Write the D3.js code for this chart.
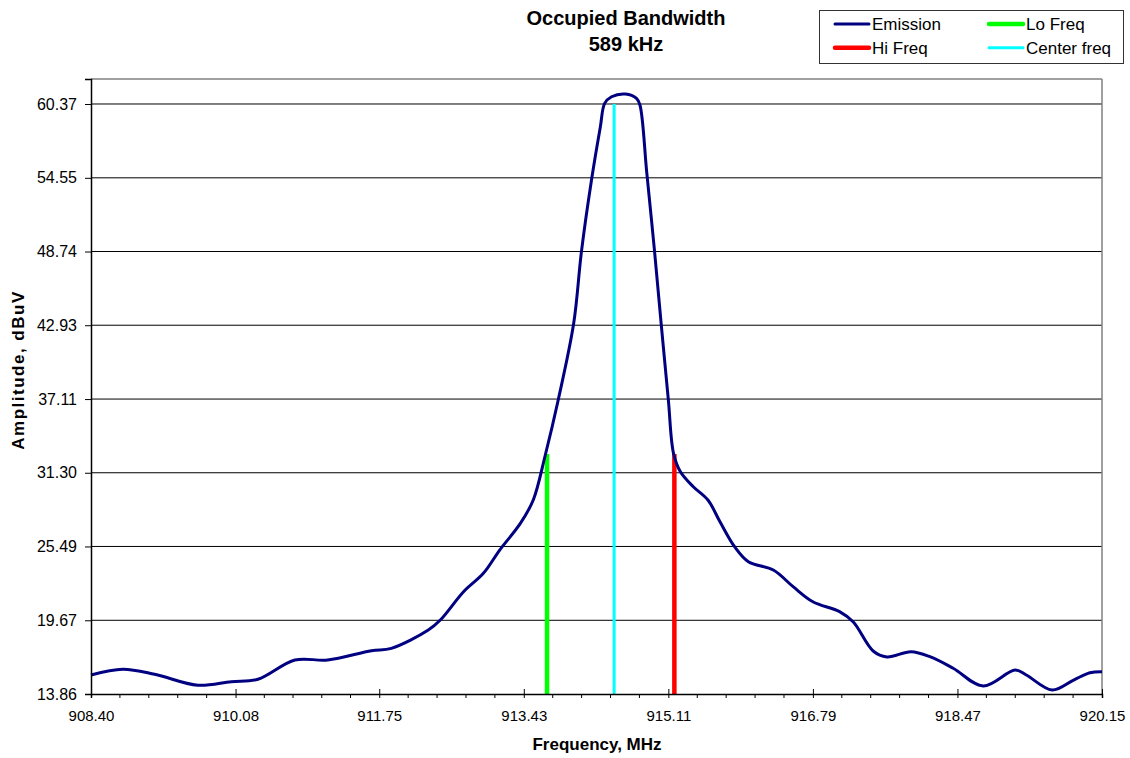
<!DOCTYPE html>
<html>
<head>
<meta charset="utf-8">
<script src="https://d3js.org/d3.v7.min.js"></script>
<style>
  body { margin: 0; background: #fff; }
  svg { display: block; font-family: "Liberation Sans", Arial, sans-serif; }
</style>
</head>
<body>
<svg id="chart" width="1130" height="758"></svg>
<script>
// emission trace (MHz, dBuV)
var freq = [908.40, 908.77, 909.14, 909.64, 910.03, 910.34, 910.77, 911.15, 911.66, 911.89,
            912.32, 912.46, 912.73, 912.96, 913.15, 913.39, 913.54, 913.68, 913.83, 914.01,
            914.10, 914.22, 914.32, 914.37, 914.45, 914.61, 914.74, 914.78, 914.86, 914.95,
            915.03, 915.11, 915.17, 915.25, 915.40, 915.57, 915.71, 915.88, 916.04, 916.33,
            916.56, 916.79, 917.10, 917.26, 917.49, 917.65, 917.93, 918.15, 918.42, 918.77,
            919.14, 919.27, 919.57, 919.82, 920.01, 920.15];
var amp  = [15.36, 15.81, 15.41, 14.55, 14.83, 15.02, 16.54, 16.54, 17.27, 17.46,
            18.90, 19.69, 21.92, 23.37, 25.21, 27.31, 29.15, 32.70, 37.04, 43.08,
            48.73, 54.51, 58.58, 60.42, 60.94, 61.16, 60.82, 60.29, 54.90, 48.73,
            42.80, 37.04, 32.83, 31.38, 30.20, 29.15, 27.44, 25.47, 24.29, 23.63,
            22.32, 21.13, 20.35, 19.53, 17.25, 16.78, 17.19, 16.80, 15.89, 14.49,
            15.75, 15.36, 14.18, 14.96, 15.54, 15.62];

// marker lines: name, freq, top amplitude
var markerNames  = ["Lo Freq", "Center freq", "Hi Freq"];
var markerFreq   = [913.70, 914.48, 915.18];
var markerTop    = [32.78, 60.37, 32.78];

var xTicks = [908.40, 910.08, 911.75, 913.43, 915.11, 916.79, 918.47, 920.15];
var yTicks = [13.86, 19.67, 25.49, 31.30, 37.11, 42.93, 48.74, 54.55, 60.37];
var yMax = 62.34;

var titleLines = ["Occupied Bandwidth", "589 kHz"];
var legendItems = ["Emission", "Lo Freq", "Hi Freq", "Center freq"];

var colors = {
  "Emission": "#000080",
  "Lo Freq": "#00ff00",
  "Hi Freq": "#ff0000",
  "Center freq": "#00ffff"
};
var widths = { "Emission": 3, "Lo Freq": 4.5, "Hi Freq": 4.5, "Center freq": 3 };

//////////////////////////////////////////////////
var L = 91, R = 1102, T = 79, B = 694;
var svg = d3.select("#chart");

var x = d3.scaleLinear().domain([xTicks[0], xTicks[xTicks.length - 1]]).range([L, R]);
var y = d3.scaleLinear().domain([yTicks[0], yMax]).range([B, T]);

// gridlines
svg.append("g").selectAll("line").data(yTicks.slice(1)).enter().append("line")
  .attr("x1", L).attr("x2", R)
  .attr("y1", function(d){ return y(d); }).attr("y2", function(d){ return y(d); })
  .attr("stroke", "#000").attr("stroke-width", 1);

// plot frame, top + right grey
svg.append("line").attr("x1", L).attr("x2", R).attr("y1", T).attr("y2", T)
  .attr("stroke", "#808080").attr("stroke-width", 1.5);
svg.append("line").attr("x1", R).attr("x2", R).attr("y1", T).attr("y2", B)
  .attr("stroke", "#808080").attr("stroke-width", 1.5);

// markers
markerNames.forEach(function(name, i){
  svg.append("line")
    .attr("x1", x(markerFreq[i])).attr("x2", x(markerFreq[i]))
    .attr("y1", y(yTicks[0])).attr("y2", y(markerTop[i]))
    .attr("stroke", colors[name]).attr("stroke-width", widths[name]);
});

// emission
var pts = freq.map(function(f, i){ return [f, amp[i]]; });
var line = d3.line()
  .x(function(d){ return x(d[0]); })
  .y(function(d){ return y(d[1]); })
  .curve(d3.curveCatmullRom.alpha(0.5));
svg.append("path").datum(pts)
  .attr("d", line)
  .attr("fill", "none")
  .attr("stroke", colors["Emission"])
  .attr("stroke-width", widths["Emission"])
  .attr("stroke-linejoin", "round");

// y axis
var yAxis = d3.axisLeft(y).tickValues(yTicks).tickSize(6).tickPadding(8)
  .tickFormat(function(d){ return d.toFixed(2); });
var gy = svg.append("g").attr("transform", "translate(" + L + ",0)").call(yAxis);
gy.select(".domain").attr("stroke", "#000").attr("stroke-width", 1.5);
gy.selectAll(".tick line").attr("stroke", "#000");
gy.selectAll("text").attr("font-size", 16).attr("fill", "#000")
  .attr("font-family", "Liberation Sans, Arial, sans-serif");

// x axis
var xAxis = d3.axisBottom(x).tickValues(xTicks).tickSize(4).tickPadding(12)
  .tickFormat(function(d){ return d.toFixed(2); });
var gx = svg.append("g").attr("transform", "translate(0," + B + ")").call(xAxis);
gx.select(".domain").attr("stroke", "#000").attr("stroke-width", 1.5);
gx.selectAll(".tick line").attr("stroke", "#000").attr("y1", -5);
gx.selectAll("text").attr("font-size", 15).attr("fill", "#000")
  .attr("font-family", "Liberation Sans, Arial, sans-serif");

// minor ticks, 5 per major
var minor = [];
for (var i = 0; i < xTicks.length - 1; i++) {
  var step = (x(xTicks[i + 1]) - x(xTicks[i])) / 5;
  for (var k = 1; k < 5; k++) minor.push(x(xTicks[i]) + k * step);
}
svg.append("g").selectAll("line").data(minor).enter().append("line")
  .attr("x1", function(d){ return d; }).attr("x2", function(d){ return d; })
  .attr("y1", B).attr("y2", B + 4)
  .attr("stroke", "#000").attr("stroke-width", 1);

// titles
svg.append("text").attr("x", 626).attr("y", 25).attr("text-anchor", "middle")
  .attr("font-size", 20).attr("font-weight", "bold").text(titleLines[0]);
svg.append("text").attr("x", 626).attr("y", 51).attr("text-anchor", "middle")
  .attr("font-size", 20).attr("font-weight", "bold").text(titleLines[1]);

svg.append("text").attr("x", 597).attr("y", 750).attr("text-anchor", "middle")
  .attr("font-size", 17).attr("font-weight", "bold").text("Frequency, MHz");
svg.append("text").attr("transform", "translate(24,370) rotate(-90)")
  .attr("text-anchor", "middle").attr("letter-spacing", 1.5)
  .attr("font-size", 17).attr("font-weight", "bold").text("Amplitude, dBuV");

// legend
var lg = svg.append("g");
lg.append("rect").attr("x", 819.5).attr("y", 10.5).attr("width", 304).attr("height", 53)
  .attr("fill", "#fff").attr("stroke", "#333").attr("stroke-width", 1);
legendItems.forEach(function(name, i){
  var col = i % 2, row = Math.floor(i / 2);
  var lx = 835 + col * 154, ly = 24 + row * 23.7;
  lg.append("line").attr("x1", lx).attr("x2", lx + 34).attr("y1", ly).attr("y2", ly)
    .attr("stroke", colors[name]).attr("stroke-width", widths[name])
    .attr("stroke-linecap", "round");
  lg.append("text").attr("x", lx + 37).attr("y", ly + 6)
    .attr("font-size", 17).text(name);
});
</script>
</body>
</html>
